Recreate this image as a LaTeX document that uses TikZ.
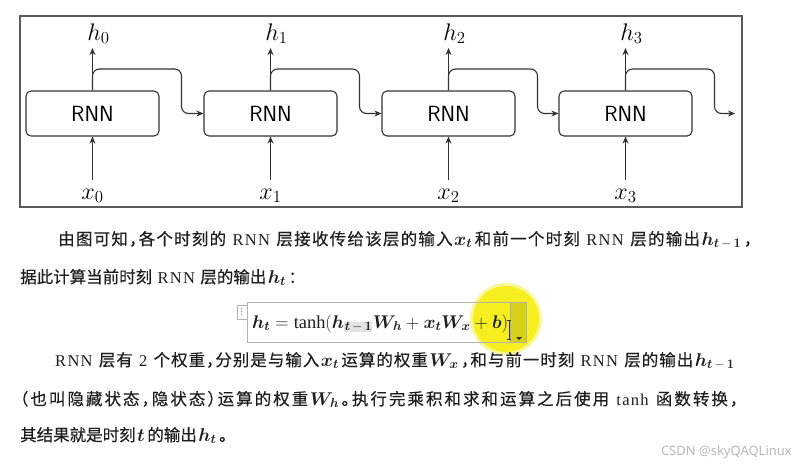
\RequirePackage{fix-cm}
\documentclass[tikz,border=0pt]{standalone}
\usepackage{amsmath}
\usepackage[no-math]{fontspec}
\usepackage{bm}
\setmainfont{Liberation Serif}
\newfontfamily\cjk[LetterSpace=10,RawFeature=+halt,FakeBold=0.3]{Noto Sans CJK SC}
\newfontfamily\cjkfull[LetterSpace=10,FakeBold=0.3]{Noto Sans CJK SC}
\newfontfamily\lat[LetterSpace=8]{Liberation Serif}
\newfontfamily\wm{Noto Sans}
\usetikzlibrary{arrows.meta}
% stretchable glue between CJK characters (for justified lines)
\newXeTeXintercharclass\cjkcls
\newcount\cc
\cc="3000 \loop \XeTeXcharclass\cc=\cjkcls \advance\cc by 1 \ifnum\cc<"3040 \repeat
\cc="4E00 \loop \XeTeXcharclass\cc=\cjkcls \advance\cc by 1 \ifnum\cc<"A000 \repeat
\cc="FF00 \loop \XeTeXcharclass\cc=\cjkcls \advance\cc by 1 \ifnum\cc<"FF60 \repeat
\XeTeXinterchartoks\cjkcls\cjkcls={\hskip 0pt plus 3pt minus 1.5pt\relax}
\XeTeXinterchartokenstate=1
\definecolor{lin}{HTML}{333333}
\definecolor{frm}{HTML}{5A5A5A}
\definecolor{hl}{RGB}{246,238,30}
\definecolor{tx}{HTML}{1E1E1E}
\tikzset{
  rnnbox/.style={draw=lin, line width=1.1pt, rounded corners=5pt, minimum width=133pt, minimum height=45pt, inner sep=0, font=\sffamily\fontsize{22}{26}\selectfont},
  arr/.style={-{Stealth[length=7pt,width=6pt]}, line width=1.1pt, draw=lin},
  lbl/.style={inner sep=0, font=\fontsize{24}{28}\selectfont},
  txt/.style={anchor=base west, inner sep=0, text=tx, font=\fontsize{16.5}{19}\selectfont},
}
\newcommand{\bv}[1]{\bm{#1}}
\newcommand{\tmo}{\bv{t}\mskip3mu{-}\mskip3mu\bv{1}}
\newcommand{\im}[1]{\kern1.5pt{\fontsize{18.5}{19}\selectfont$#1$}\kern2.5pt}
\begin{document}
\begin{tikzpicture}[x=1pt,y=-1pt]
\useasboundingbox (0,0) rectangle (799,464);
\fill[white] (0,0) rectangle (799,464);
% frame
\draw[frm, line width=1.3pt] (20,16) rectangle (742,207);
% RNN cells
\foreach \i/\cx in {0/92.5,1/270.5,2/448.5,3/625.5}{
  \node[rnnbox] (r\i) at (\cx,113.5) {RNN};
  \node[lbl, anchor=base] (x\i) at (\cx,199) {$x_{\i}$};
  \node[lbl, anchor=base] (h\i) at (\cx+6,40) {$h_{\i}$};
  \coordinate (top\i) at (\cx,48);
  \coordinate (mid\i) at (\cx+89,69);
  \draw[arr] ([yshift=8pt]x\i.north) -- (r\i.south);
  \draw[arr] (r\i.north) -- (top\i);
}
\coordinate (end3) at (735,113.5);
\draw[arr, rounded corners=7pt] (r0.north) |- (mid0) |- (r1.west);
\draw[arr, rounded corners=7pt] (r1.north) |- (mid1) |- (r2.west);
\draw[arr, rounded corners=7pt] (r2.north) |- (mid2) |- (r3.west);
\draw[arr, rounded corners=7pt] (r3.north) |- (mid3) |- (end3);
% text
\node[txt] (l1) at (58,245) {\hbox to 694pt{\cjk 由图可知，各个时刻的 {\lat RNN} 层接收传给该层的输入\im{\bv{x}_{\bv{t}}}和前一个时刻 {\lat RNN} 层的输出\im{\bv{h}_{\tmo}}，}};
\node[txt] (l2) at (20,283) {\cjk 据此计算当前时刻 {\lat RNN} 层的输出\im{\bv{h}_{\bv{t}}}{\cjkfull ：}};
% formula box with highlight
\node[draw=gray!60, inner sep=0, minimum width=10pt, minimum height=14pt, anchor=north west] (hand) at (237,305) {};
\foreach \k in {0,1,2}{\fill[gray!70] (241.5,308.5+3*\k) circle (0.8pt);}
\fill[hl, opacity=0.45] (506,319) circle (36);
\fill[hl] (506,319) circle (33);
\node[draw=gray!60, line width=0.8pt, inner sep=0, minimum width=279pt, minimum height=40pt, anchor=north west] (fbox) at (247,302) {};
\fill[black, opacity=0.12] (510,302.5) rectangle (525.5,341.5);
\draw[gray!60, line width=0.8pt] (510,302) -- (510,342);
\fill[lin] (516,337) -- (522,337) -- (519,340) -- cycle;
\draw[lin, line width=0.6pt] (507,320) -- (511,320) (509,320) -- (509,339) (507,339) -- (511,339);
\node[anchor=base west, inner sep=0, text=tx, font=\fontsize{18.4}{22}\selectfont] (f) at (252,328) {\setlength{\fboxsep}{0.6pt}$\bv{h}_{\bv{t}} = \mathop{\text{tanh}}(\bv{h}_{\colorbox{gray!22}{$\scriptstyle\tmo$}}\bv{W}_{\bv{h}} + \bv{x}_{\bv{t}}\bv{W}_{\bv{x}} + \bv{b})$};
\node[txt] (l3) at (55,366) {\hbox to 682pt{\cjk {\lat RNN} 层有 {\lat 2} 个权重，分别是与输入\im{\bv{x}_{\bv{t}}}运算的权重\im{\bv{W}_{\bv{x}}}，和与前一时刻 {\lat RNN} 层的输出\im{\bv{h}_{\tmo}}}};
\node[txt] (l4) at (20,405) {\hbox to 718pt{\cjk （也叫隐藏状态，隐状态）运算的权重\im{\bv{W}_{\bv{h}}}。执行完乘积和求和运算之后使用 {\lat tanh} 函数转换，}};
\node[txt] (l5) at (20,441) {\cjk 其结果就是时刻\im{\bv{t}}的输出\im{\bv{h}_{\bv{t}}}{\cjkfull 。}};
\node[anchor=base east, inner sep=0, text=gray!55, font=\wm\fontsize{13}{15}\selectfont] (wm) at (792,455) {CSDN @skyQAQLinux};
\end{tikzpicture}
\end{document}
